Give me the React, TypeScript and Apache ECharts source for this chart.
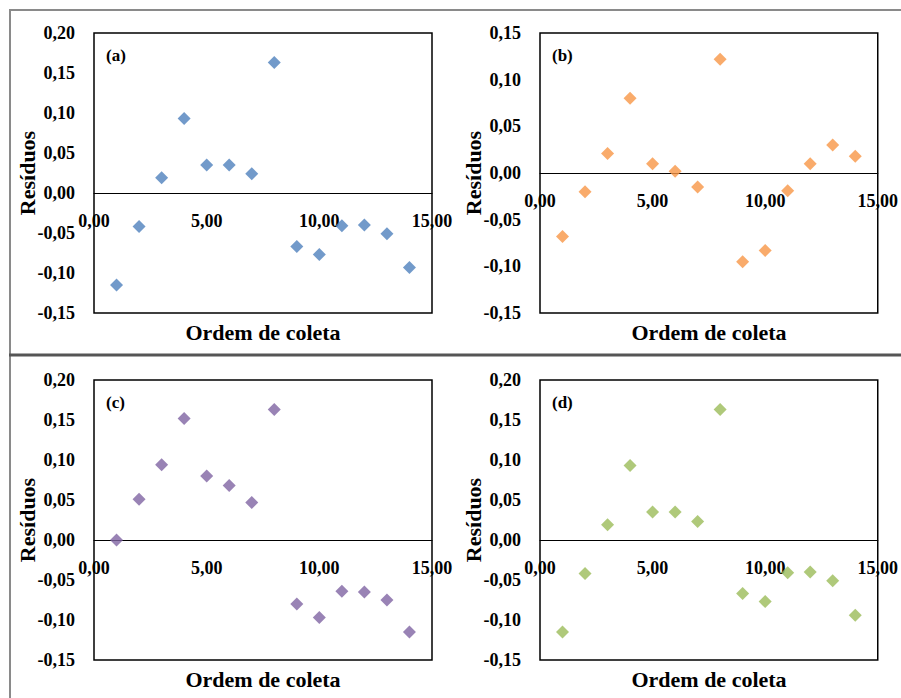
import React, { useEffect, useRef } from "react";
import * as echarts from "echarts";

const coletaOrder = [1, 2, 3, 4, 5, 6, 7, 8, 9, 10, 11, 12, 13, 14];
const residuosA = [-0.115, -0.042, 0.019, 0.093, 0.035, 0.035, 0.024, 0.163, -0.067, -0.077, -0.041, -0.040, -0.051, -0.093];
const residuosB = [-0.068, -0.020, 0.021, 0.080, 0.010, 0.002, -0.015, 0.122, -0.095, -0.083, -0.019, 0.010, 0.030, 0.018];
const residuosC = [0.000, 0.051, 0.094, 0.152, 0.080, 0.068, 0.047, 0.163, -0.080, -0.097, -0.064, -0.065, -0.075, -0.115];
const residuosD = [-0.115, -0.042, 0.019, 0.093, 0.035, 0.035, 0.023, 0.163, -0.067, -0.077, -0.041, -0.040, -0.051, -0.094];
const panelLabels = ["(a)", "(b)", "(c)", "(d)"];
const panelColors = ["#4F81BD", "#F79646", "#8064A2", "#9BBB59"];
const yMins = [-0.15, -0.15, -0.15, -0.15];
const yMaxs = [0.2, 0.15, 0.2, 0.2];
const xTitle = "Ordem de coleta";
const yTitle = "Resíduos";

const FONT = "'Liberation Serif', 'DejaVu Serif', serif";

const fmt = (v: number) => {
  const n = Math.abs(v) < 1e-9 ? 0 : v;
  return n.toFixed(2).replace(".", ",");
};

export default function App() {
  const ref = useRef<HTMLDivElement>(null);
  useEffect(() => {
    if (!ref.current) return;
    const chart = echarts.init(ref.current, null, { renderer: "svg" });
    const series = [residuosA, residuosB, residuosC, residuosD];
    const gridPos = [
      { left: 94, top: 33 },
      { left: 540, top: 33 },
      { left: 94, top: 380 },
      { left: 540, top: 380 },
    ];
    const W = 338;
    const H = 280;
    const grids = gridPos.map((p) => ({
      left: p.left,
      top: p.top,
      width: W,
      height: H,
      show: true,
      borderColor: "#000",
      borderWidth: 1.5,
      backgroundColor: "transparent",
    }));
    const xAxes = gridPos.map((_, i) => {
      // distance from bottom of grid up to the y = 0 line
      const zeroOffset = -(H * (0 - yMins[i])) / (yMaxs[i] - yMins[i]);
      return {
        type: "value",
        gridIndex: i,
        position: "bottom",
        offset: zeroOffset,
        min: 0,
        max: 15,
        interval: 5,
        axisLine: { show: true, onZero: false, lineStyle: { color: "#000", width: 1.2 } },
        axisTick: { show: false },
        splitLine: { show: false },
        axisLabel: {
          margin: 19,
          fontFamily: FONT,
          fontWeight: "bold",
          fontSize: 18,
          color: "#000",
          showMinLabel: true,
          showMaxLabel: true,
          hideOverlap: false,
          formatter: fmt,
        },
      };
    });
    const yAxes = gridPos.map((_, i) => ({
      type: "value",
      gridIndex: i,
      min: yMins[i],
      max: yMaxs[i],
      interval: 0.05,
      axisLine: { show: false, onZero: false },
      axisTick: { show: false },
      splitLine: { show: false },
      axisLabel: {
        margin: 19,
        fontFamily: FONT,
        fontWeight: "bold",
        fontSize: 18,
        color: "#000",
        formatter: fmt,
      },
    }));
    const seriesOpts = series.map((vals, i) => ({
      type: "scatter",
      xAxisIndex: i,
      yAxisIndex: i,
      symbol: "diamond",
      symbolSize: 13,
      itemStyle: { color: panelColors[i] },
      data: coletaOrder.map((x, k) => [x, vals[k]]),
    }));
    const texts: any[] = [];
    gridPos.forEach((p, i) => {
      texts.push({
        type: "text",
        left: p.left + 12,
        top: p.top + 14,
        style: { text: panelLabels[i], font: `bold 17px ${FONT}`, fill: "#000" },
      });
      texts.push({
        type: "text",
        x: p.left - 67,
        y: p.top + H / 2,
        rotation: Math.PI / 2,
        style: {
          text: yTitle,
          font: `bold 22px ${FONT}`,
          fill: "#000",
          align: "center",
          verticalAlign: "middle",
        },
      });
      texts.push({
        type: "text",
        x: p.left + W / 2,
        y: p.top + H + 19,
        style: {
          text: xTitle,
          font: `bold 22px ${FONT}`,
          fill: "#000",
          align: "center",
          verticalAlign: "middle",
        },
      });
    });
    const lines = [
      { type: "line", shape: { x1: 9, y1: 10, x2: 901, y2: 10 }, style: { stroke: "#8a8a8a", lineWidth: 2 } },
      { type: "line", shape: { x1: 10, y1: 9, x2: 10, y2: 698 }, style: { stroke: "#8a8a8a", lineWidth: 2 } },
      { type: "line", shape: { x1: 9, y1: 355, x2: 901, y2: 355 }, style: { stroke: "#555", lineWidth: 3 } },
    ];
    chart.setOption({
      animation: false,
      backgroundColor: "#fff",
      grid: grids,
      xAxis: xAxes,
      yAxis: yAxes,
      series: seriesOpts,
      graphic: [...lines, ...texts],
    });
    return () => chart.dispose();
  }, []);
  return (
    <div
      ref={ref}
      style={{ position: "fixed", left: 0, top: 0, width: 901, height: 698 }}
    />
  );
}
